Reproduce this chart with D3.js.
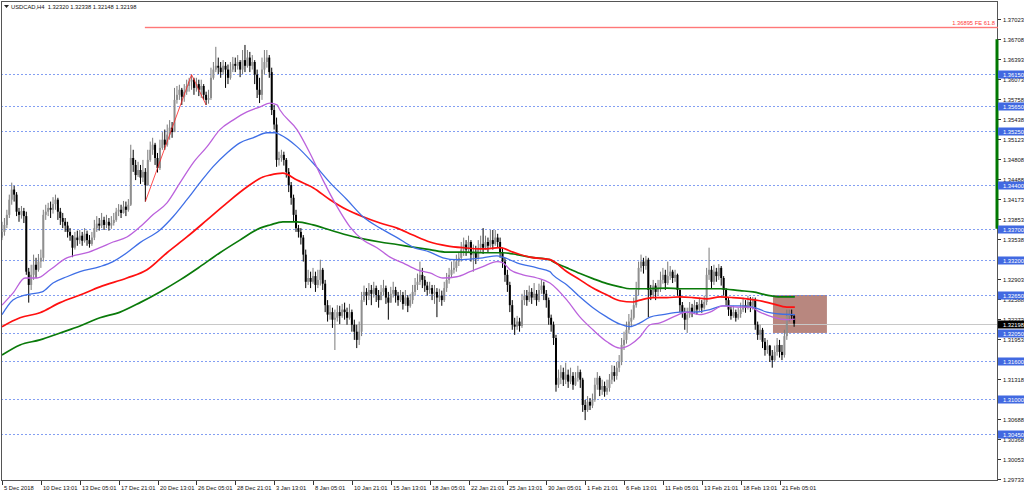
<!DOCTYPE html>
<html><head><meta charset="utf-8">
<script src="https://cdn.jsdelivr.net/npm/d3@7"></script>
<style>html,body{margin:0;padding:0;background:#fff;} svg{display:block;} text{font-family:"Liberation Sans",Arial,sans-serif;}</style>
</head><body><svg id="c" width="1024" height="494"></svg>
<script>
const symbolTitle = "USDCAD,H4  1.32320 1.32338 1.32148 1.32198";
const firstOpen = 1.3356;
const closes = [
1.3365,1.3376,1.3392,1.3416,1.3432,1.3424,1.3397,1.3392,1.3398,1.3390,
1.3302,1.3281,1.3297,1.3313,1.3305,1.3318,1.3324,1.3392,1.3397,1.3403,
1.3400,1.3409,1.3416,1.3397,1.3387,1.3381,1.3375,1.3365,1.3359,1.3340,
1.3356,1.3352,1.3359,1.3351,1.3362,1.3352,1.3346,1.3356,1.3371,1.3378,
1.3375,1.3384,1.3376,1.3381,1.3375,1.3379,1.3384,1.3397,1.3400,1.3395,
1.3405,1.3400,1.3408,1.3482,1.3471,1.3455,1.3463,1.3451,1.3460,1.3439,
1.3479,1.3495,1.3503,1.3482,1.3466,1.3498,1.3511,1.3503,1.3519,1.3530,
1.3523,1.3574,1.3582,1.3590,1.3579,1.3587,1.3596,1.3603,1.3606,1.3593,
1.3599,1.3590,1.3596,1.3582,1.3574,1.3577,1.3609,1.3622,1.3628,1.3625,
1.3618,1.3628,1.3622,1.3609,1.3622,1.3631,1.3628,1.3634,1.3622,1.3637,
1.3628,1.3641,1.3628,1.3634,1.3614,1.3590,1.3582,1.3622,1.3634,1.3641,
1.3618,1.3558,1.3535,1.3479,1.3482,1.3487,1.3479,1.3460,1.3439,1.3419,
1.3392,1.3371,1.3365,1.3356,1.3329,1.3286,1.3292,1.3286,1.3295,1.3281,
1.3289,1.3305,1.3283,1.3249,1.3234,1.3238,1.3226,1.3229,1.3238,1.3232,
1.3242,1.3238,1.3229,1.3238,1.3218,1.3207,1.3194,1.3207,1.3257,1.3270,
1.3264,1.3273,1.3267,1.3276,1.3265,1.3257,1.3270,1.3276,1.3261,1.3253,
1.3267,1.3273,1.3264,1.3257,1.3265,1.3251,1.3261,1.3248,1.3257,1.3270,
1.3281,1.3286,1.3297,1.3289,1.3280,1.3273,1.3276,1.3267,1.3270,1.3261,
1.3264,1.3257,1.3276,1.3289,1.3297,1.3305,1.3308,1.3318,1.3324,1.3337,
1.3345,1.3337,1.3349,1.3329,1.3333,1.3324,1.3340,1.3346,1.3340,1.3349,
1.3343,1.3352,1.3346,1.3356,1.3349,1.3333,1.3318,1.3297,1.3281,1.3249,
1.3218,1.3215,1.3223,1.3216,1.3257,1.3264,1.3257,1.3270,1.3261,1.3267,
1.3257,1.3273,1.3280,1.3267,1.3257,1.3229,1.3218,1.3197,1.3123,1.3134,
1.3143,1.3131,1.3139,1.3128,1.3137,1.3123,1.3134,1.3143,1.3131,1.3091,
1.3083,1.3096,1.3090,1.3099,1.3123,1.3134,1.3115,1.3121,1.3112,1.3118,
1.3131,1.3143,1.3137,1.3150,1.3159,1.3186,1.3194,1.3210,1.3223,1.3229,
1.3249,1.3273,1.3308,1.3318,1.3311,1.3321,1.3273,1.3265,1.3280,1.3270,
1.3276,1.3289,1.3297,1.3284,1.3295,1.3302,1.3292,1.3297,1.3273,1.3249,
1.3238,1.3226,1.3234,1.3245,1.3238,1.3249,1.3242,1.3251,1.3245,1.3254,
1.3297,1.3305,1.3286,1.3302,1.3295,1.3308,1.3292,1.3273,1.3257,1.3242,
1.3232,1.3238,1.3229,1.3235,1.3242,1.3249,1.3245,1.3254,1.3248,1.3257,
1.3218,1.3202,1.3210,1.3191,1.3178,1.3185,1.3169,1.3162,1.3175,1.3186,
1.3175,1.3170,1.3200,1.3232,1.3235,1.3232,1.32198];
const highs = [
1.3381,1.3387,1.3400,1.3424,1.3443,1.3438,1.3428,1.3403,1.3406,1.3403,
1.3397,1.3308,1.3313,1.3329,1.3324,1.3330,1.3337,1.3400,1.3408,1.3411,
1.3413,1.3420,1.3424,1.3419,1.3403,1.3395,1.3387,1.3381,1.3371,1.3360,
1.3365,1.3367,1.3368,1.3365,1.3371,1.3367,1.3360,1.3365,1.3384,1.3390,
1.3387,1.3395,1.3389,1.3392,1.3387,1.3390,1.3395,1.3403,1.3409,1.3408,
1.3414,1.3413,1.3417,1.3503,1.3495,1.3479,1.3476,1.3471,1.3479,1.3466,
1.3495,1.3508,1.3514,1.3506,1.3490,1.3511,1.3523,1.3527,1.3535,1.3542,
1.3539,1.3593,1.3596,1.3598,1.3593,1.3599,1.3606,1.3609,1.3614,1.3609,
1.3609,1.3606,1.3606,1.3599,1.3587,1.3590,1.3625,1.3634,1.3658,1.3641,
1.3634,1.3637,1.3634,1.3630,1.3634,1.3642,1.3641,1.3645,1.3637,1.3653,
1.3661,1.3653,1.3650,1.3645,1.3637,1.3622,1.3609,1.3641,1.3653,1.3653,
1.3645,1.3625,1.3566,1.3546,1.3492,1.3495,1.3492,1.3482,1.3466,1.3444,
1.3424,1.3400,1.3376,1.3371,1.3360,1.3337,1.3305,1.3302,1.3308,1.3302,
1.3305,1.3321,1.3308,1.3289,1.3257,1.3249,1.3245,1.3242,1.3249,1.3248,
1.3251,1.3253,1.3245,1.3251,1.3242,1.3226,1.3218,1.3223,1.3270,1.3280,
1.3276,1.3284,1.3281,1.3286,1.3280,1.3273,1.3281,1.3289,1.3280,1.3270,
1.3278,1.3286,1.3278,1.3270,1.3273,1.3270,1.3273,1.3265,1.3267,1.3281,
1.3292,1.3299,1.3318,1.3308,1.3295,1.3286,1.3286,1.3281,1.3281,1.3276,
1.3275,1.3272,1.3286,1.3300,1.3308,1.3318,1.3321,1.3329,1.3333,1.3349,
1.3356,1.3352,1.3359,1.3352,1.3345,1.3343,1.3352,1.3359,1.3371,1.3359,
1.3356,1.3368,1.3368,1.3368,1.3362,1.3356,1.3340,1.3324,1.3305,1.3286,
1.3257,1.3229,1.3232,1.3229,1.3267,1.3273,1.3273,1.3280,1.3276,1.3284,
1.3273,1.3283,1.3289,1.3286,1.3273,1.3261,1.3234,1.3223,1.3202,1.3147,
1.3154,1.3150,1.3158,1.3147,1.3150,1.3143,1.3143,1.3153,1.3147,1.3134,
1.3099,1.3105,1.3102,1.3109,1.3134,1.3143,1.3137,1.3131,1.3128,1.3131,
1.3140,1.3154,1.3153,1.3159,1.3170,1.3197,1.3207,1.3223,1.3235,1.3242,
1.3261,1.3286,1.3318,1.3329,1.3324,1.3327,1.3324,1.3281,1.3289,1.3284,
1.3289,1.3302,1.3308,1.3305,1.3318,1.3311,1.3305,1.3305,1.3299,1.3276,
1.3254,1.3245,1.3245,1.3254,1.3251,1.3257,1.3254,1.3261,1.3257,1.3264,
1.3308,1.3340,1.3311,1.3313,1.3308,1.3314,1.3311,1.3295,1.3276,1.3261,
1.3248,1.3248,1.3242,1.3245,1.3253,1.3261,1.3257,1.3264,1.3262,1.3262,
1.3261,1.3223,1.3218,1.3213,1.3197,1.3194,1.3186,1.3178,1.3185,1.3197,
1.3194,1.3186,1.3210,1.3242,1.3242,1.3242,1.32338];
const lows = [
1.3352,1.3359,1.3371,1.3387,1.3408,1.3413,1.3390,1.3381,1.3386,1.3379,
1.3297,1.3253,1.3273,1.3289,1.3292,1.3302,1.3308,1.3318,1.3384,1.3390,
1.3387,1.3394,1.3400,1.3384,1.3376,1.3371,1.3365,1.3356,1.3351,1.3325,
1.3337,1.3343,1.3346,1.3343,1.3348,1.3343,1.3340,1.3343,1.3352,1.3365,
1.3367,1.3371,1.3368,1.3371,1.3367,1.3370,1.3375,1.3381,1.3390,1.3387,
1.3394,1.3390,1.3397,1.3406,1.3460,1.3447,1.3452,1.3441,1.3444,1.3413,
1.3438,1.3476,1.3487,1.3471,1.3459,1.3463,1.3495,1.3495,1.3500,1.3511,
1.3514,1.3523,1.3568,1.3574,1.3566,1.3571,1.3582,1.3587,1.3590,1.3582,
1.3587,1.3580,1.3577,1.3574,1.3566,1.3568,1.3574,1.3606,1.3618,1.3615,
1.3609,1.3614,1.3593,1.3599,1.3606,1.3618,1.3618,1.3622,1.3610,1.3615,
1.3618,1.3625,1.3618,1.3622,1.3599,1.3577,1.3569,1.3574,1.3614,1.3625,
1.3609,1.3550,1.3527,1.3468,1.3470,1.3476,1.3470,1.3451,1.3428,1.3408,
1.3381,1.3365,1.3356,1.3345,1.3318,1.3276,1.3281,1.3276,1.3283,1.3270,
1.3276,1.3280,1.3273,1.3238,1.3223,1.3226,1.3213,1.3178,1.3223,1.3219,
1.3229,1.3226,1.3218,1.3226,1.3207,1.3194,1.3181,1.3186,1.3200,1.3254,
1.3249,1.3257,1.3249,1.3261,1.3254,1.3245,1.3257,1.3264,1.3251,1.3226,
1.3257,1.3261,1.3253,1.3248,1.3254,1.3242,1.3248,1.3238,1.3245,1.3251,
1.3264,1.3273,1.3281,1.3276,1.3270,1.3264,1.3267,1.3257,1.3251,1.3230,
1.3254,1.3248,1.3254,1.3270,1.3283,1.3292,1.3299,1.3302,1.3311,1.3318,
1.3327,1.3327,1.3333,1.3318,1.3302,1.3314,1.3321,1.3333,1.3330,1.3337,
1.3333,1.3340,1.3337,1.3343,1.3340,1.3324,1.3308,1.3286,1.3270,1.3238,
1.3210,1.3202,1.3210,1.3207,1.3213,1.3249,1.3248,1.3254,1.3251,1.3257,
1.3248,1.3254,1.3267,1.3257,1.3245,1.3218,1.3207,1.3186,1.3112,1.3118,
1.3124,1.3121,1.3124,1.3118,1.3124,1.3115,1.3121,1.3128,1.3118,1.3080,
1.3067,1.3080,1.3083,1.3086,1.3096,1.3115,1.3105,1.3107,1.3104,1.3107,
1.3112,1.3124,1.3128,1.3131,1.3143,1.3154,1.3178,1.3188,1.3204,1.3216,
1.3226,1.3245,1.3265,1.3302,1.3299,1.3305,1.3230,1.3257,1.3261,1.3257,
1.3264,1.3270,1.3283,1.3273,1.3281,1.3289,1.3284,1.3286,1.3264,1.3238,
1.3229,1.3210,1.3205,1.3229,1.3230,1.3235,1.3234,1.3238,1.3237,1.3242,
1.3249,1.3289,1.3276,1.3281,1.3286,1.3289,1.3280,1.3264,1.3248,1.3232,
1.3226,1.3229,1.3223,1.3226,1.3229,1.3238,1.3237,1.3242,1.3238,1.3242,
1.3210,1.3194,1.3194,1.3181,1.3169,1.3172,1.3159,1.3150,1.3159,1.3169,
1.3166,1.3162,1.3166,1.3194,1.3223,1.3226,1.32148];

// moving averages: [bar index, price]
const maPurple = [[0,1.3249],[4.5,1.3268],[9.5,1.3292],[14.4,1.3292],[19.8,1.3305],[26.7,1.3324],[29.2,1.3327],[35,1.3332],[40.3,1.3340],[45.7,1.3349],[51.4,1.3357],[56.8,1.3373],[62.1,1.3392],[67.9,1.3411],[73.3,1.3443],[78.6,1.3474],[84.4,1.3500],[89.7,1.3527],[95.1,1.3542],[100.8,1.3555],[106.2,1.3563],[110.3,1.3569],[113.2,1.3566],[114.4,1.3558],[121.4,1.3527],[126.7,1.3490],[132.1,1.3447],[137.9,1.3405],[143.2,1.3373],[148.6,1.3352],[154.3,1.3340],[159.7,1.3325],[165,1.3316],[170.8,1.3305],[176.1,1.3300],[181.5,1.3292],[187.2,1.3294],[192.6,1.3302],[197.9,1.3310],[203.7,1.3318],[206.2,1.3316],[209.1,1.3305],[214.4,1.3297],[220.2,1.3292],[225.5,1.3284],[232.5,1.3257],[237.9,1.3230],[243.2,1.3210],[249,1.3191],[254.3,1.3181],[258.4,1.3186],[262.6,1.3199],[266.7,1.3218],[270.8,1.3221],[276.1,1.3230],[281.9,1.3238],[287.2,1.3234],[291.4,1.3238],[296.7,1.3248],[302.5,1.3246],[307.8,1.3246],[311.9,1.3238],[317.3,1.3230],[323,1.3226],[326.3,1.3227]];
const maBlue = [[0,1.3234],[4.5,1.3257],[9.5,1.3265],[16.5,1.3270],[21,1.3284],[26.7,1.3294],[32.1,1.3302],[40.3,1.3310],[45.7,1.3318],[51.4,1.3332],[56.8,1.3348],[65,1.3368],[70.4,1.3389],[76.1,1.3416],[81.5,1.3443],[86.8,1.3468],[92.6,1.3490],[97.9,1.3506],[103.3,1.3514],[109.1,1.3522],[112.3,1.3522],[114.4,1.3519],[121.4,1.3500],[128,1.3474],[135,1.3443],[142,1.3416],[148.6,1.3389],[155.6,1.3371],[162.6,1.3356],[169.1,1.3341],[176.1,1.3333],[181.5,1.3324],[187.2,1.3321],[192.6,1.3322],[197.9,1.3324],[203.7,1.3327],[206.2,1.3325],[211.9,1.3316],[220.2,1.3308],[225.5,1.3302],[226.7,1.3297],[232.5,1.3281],[237.9,1.3262],[243.2,1.3245],[249,1.3230],[254.3,1.3219],[258.4,1.3215],[262.6,1.3221],[266.7,1.3230],[272,1.3234],[279,1.3238],[284.4,1.3238],[291.4,1.3242],[296.7,1.3248],[303.7,1.3248],[309.1,1.3246],[314.8,1.3238],[320.2,1.3235],[326.3,1.3234]];
const maRed = [[0,1.3215],[7.4,1.3229],[15.6,1.3237],[23.9,1.3253],[32.1,1.3265],[40.3,1.3278],[51.4,1.3292],[59.7,1.3305],[67.9,1.3332],[76.1,1.3357],[84.4,1.3384],[92.6,1.3411],[100.8,1.3436],[107.4,1.3452],[110.3,1.3455],[115.6,1.3458],[121.4,1.3447],[128,1.3435],[135,1.3416],[142,1.3400],[148.6,1.3389],[155.6,1.3379],[162.6,1.3371],[169.1,1.3360],[176.1,1.3349],[183.1,1.3343],[189.7,1.3340],[197.9,1.3338],[204.9,1.3340],[210.3,1.3333],[217.3,1.3325],[225.5,1.3321],[232.5,1.3302],[237.9,1.3289],[243.2,1.3276],[249,1.3265],[254.3,1.3256],[259.7,1.3254],[262.6,1.3257],[267.9,1.3261],[273.7,1.3261],[279,1.3262],[284.4,1.3261],[290.1,1.3259],[295.5,1.3262],[300.8,1.3261],[306.6,1.3259],[311.9,1.3256],[317.3,1.3251],[323,1.3246],[326.3,1.3246]];
const maGreen = [[0,1.3170],[7.4,1.3186],[15.6,1.3194],[23.9,1.3205],[32.1,1.3216],[40.3,1.3229],[48.6,1.3238],[56.8,1.3253],[65,1.3270],[73.3,1.3289],[81.5,1.3310],[89.7,1.3332],[97.9,1.3352],[106.2,1.3371],[110.3,1.3376],[115.6,1.3381],[121.4,1.3381],[128,1.3376],[135,1.3368],[142,1.3360],[148.6,1.3354],[155.6,1.3349],[162.6,1.3345],[169.1,1.3341],[176.1,1.3337],[183.1,1.3333],[189.7,1.3333],[197.9,1.3332],[206.2,1.3332],[211.9,1.3329],[217.3,1.3325],[225.5,1.3321],[226.7,1.3318],[232.5,1.3308],[237.9,1.3299],[243.2,1.3291],[249,1.3283],[254.3,1.3278],[258.4,1.3275],[265.4,1.3275],[273.7,1.3276],[279,1.3275],[287.2,1.3275],[295.5,1.3275],[303.7,1.3272],[309.1,1.3270],[314.8,1.3265],[320.2,1.3262],[326.3,1.3262]];
const zigzag = [[59,1.3413],[78,1.3614],[84,1.3566]];

const levels = [1.3615,1.3565,1.3525,1.3440,1.3370,1.3320,1.3265,1.3205,1.3160,1.3100,1.3045];
const priceTicks = [1.37023,1.36708,1.36393,1.36073,1.35758,1.35438,1.35123,1.34808,1.34488,1.34173,1.33853,1.33538,1.33223,1.32903,1.32588,1.32273,1.31953,1.31638,1.31318,1.31003,1.30688,1.30368,1.30053,1.29733];
const timeTickBars = [0,16,32,48,64,80,96,112,128,144,160,176,192,208,224,240,256,272,288,304,320];
const timeTickLabels = ["5 Dec 2018","10 Dec 13:01","13 Dec 05:01","17 Dec 21:01","20 Dec 13:01","26 Dec 05:01","28 Dec 21:01","3 Jan 13:01","8 Jan 05:01","10 Jan 21:01","15 Jan 13:01","18 Jan 05:01","22 Jan 21:01","25 Jan 13:01","30 Jan 05:01","1 Feb 21:01","6 Feb 13:01","11 Feb 05:01","13 Feb 21:01","18 Feb 13:01","21 Feb 05:01"];
const feLevel = 1.36895, feStartBar = 58.8, feLabel = "1.36895 FE 61.8";
const boxBars = [317.3, 339.5], boxPrices = [1.3265, 1.3205];
const greenRange = [1.3670, 1.3370];
const bid = 1.32198;

const W = 1024, H = 494;
const L = 1, T = 1, R = 998, B = 481;
const svg = d3.select("#c");
const x = d3.scaleLinear().domain([0, 409.5]).range([2, 997]);
const y = d3.scaleLinear().domain([1.3045, 1.3615]).range([434, 74]);
const fmt = d3.format(".5f");
const FS = 5.8;

svg.append("rect").attr("width", W).attr("height", H).attr("fill", "#fff");
const clip = svg.append("defs").append("clipPath").attr("id", "pc");
clip.append("rect").attr("x", L).attr("y", T).attr("width", R - L).attr("height", B - T);
const plot = svg.append("g").attr("clip-path", "url(#pc)");

// box
plot.append("rect").attr("x", x(boxBars[0])).attr("width", x(boxBars[1]) - x(boxBars[0]))
  .attr("y", y(boxPrices[0])).attr("height", y(boxPrices[1]) - y(boxPrices[0])).attr("fill", "#b8877f");

// level lines
plot.selectAll(".lvl").data(levels).join("line").attr("class", "lvl")
  .attr("x1", L).attr("x2", R).attr("y1", d => Math.round(y(d)) + 0.5).attr("y2", d => Math.round(y(d)) + 0.5)
  .attr("stroke", "#5a80ee").attr("stroke-width", 1).attr("stroke-dasharray", "2,2").attr("opacity", 0.75);

// bid line
plot.append("line").attr("x1", L).attr("x2", R).attr("y1", Math.round(y(bid)) + 0.5).attr("y2", Math.round(y(bid)) + 0.5)
  .attr("stroke", "#c8c8c8").attr("stroke-width", 1);

// candles
const bars = closes.map((c, i) => {
  const o = i === 0 ? firstOpen : closes[i - 1];
  return { i, o, c, h: Math.max(highs[i], o, c), l: Math.min(lows[i], o, c) };
});
const cg = plot.append("g");
cg.selectAll("line").data(bars).join("line")
  .attr("x1", d => x(d.i)).attr("x2", d => x(d.i))
  .attr("y1", d => y(d.h)).attr("y2", d => y(d.l))
  .attr("stroke", d => d.c >= d.o ? "#7a7a7a" : "#000").attr("stroke-width", 1);
cg.selectAll("rect").data(bars).join("rect")
  .attr("x", d => x(d.i) - 1).attr("width", 2)
  .attr("y", d => Math.min(y(d.o), y(d.c))).attr("height", d => Math.max(0.8, Math.abs(y(d.o) - y(d.c))))
  .attr("fill", d => d.c >= d.o ? "#8f8f8f" : "#000");

// zigzag
plot.append("path").datum(zigzag).attr("fill", "none").attr("stroke", "#ff2020").attr("stroke-width", 0.8)
  .attr("d", d3.line().x(d => x(d[0])).y(d => y(d[1])));

// MAs
const maLine = d3.line().x(d => x(d[0])).y(d => y(d[1])).curve(d3.curveMonotoneX);
[[maGreen, "#0a7a0a", 1.7], [maRed, "#ff1010", 1.7], [maBlue, "#3f6fe6", 1.3], [maPurple, "#bb62dc", 1.3]].forEach(([data, col, w]) => {
  plot.append("path").datum(data).attr("fill", "none").attr("stroke", col).attr("stroke-width", w).attr("d", maLine);
});

// frame
svg.append("rect").attr("x", L + 0.5).attr("y", T + 0.5).attr("width", R - L - 1).attr("height", B - T - 1)
  .attr("fill", "none").attr("stroke", "#555").attr("stroke-width", 1);

// FE line and label
svg.append("rect").attr("x", x(feStartBar)).attr("width", R - x(feStartBar))
  .attr("y", Math.round(y(feLevel)) - 0.2).attr("height", 1.4).attr("fill", "#ff7878");
svg.append("text").attr("x", 995).attr("y", y(feLevel) - 2).attr("text-anchor", "end")
  .attr("font-size", FS).attr("fill", "#ff3a3a").text(feLabel);

// green axis bar
svg.append("line").attr("x1", R - 1).attr("x2", R - 1).attr("y1", y(greenRange[0])).attr("y2", y(greenRange[1]))
  .attr("stroke", "#007700").attr("stroke-width", 3);

// price axis
const pa = svg.append("g");
priceTicks.forEach(p => {
  const yy = Math.round(y(p)) + 0.5;
  pa.append("line").attr("x1", R).attr("x2", R + 3).attr("y1", yy).attr("y2", yy).attr("stroke", "#333");
  pa.append("text").attr("x", R + 5).attr("y", yy).attr("dy", "0.35em").attr("font-size", FS).attr("fill", "#111").text(fmt(p));
});
// level tags
levels.forEach(p => {
  const yy = Math.round(y(p)) + 0.5;
  pa.append("rect").attr("x", R).attr("y", yy - 4).attr("width", W - R).attr("height", 8).attr("fill", "#4169e1");
  pa.append("text").attr("x", R + 5).attr("y", yy).attr("dy", "0.35em").attr("font-size", FS).attr("fill", "#fff").text(fmt(p));
});
// bid tag
{
  const yy = Math.round(y(bid)) + 0.5;
  pa.append("rect").attr("x", R).attr("y", yy - 4).attr("width", W - R).attr("height", 8).attr("fill", "#000");
  pa.append("text").attr("x", R + 5).attr("y", yy).attr("dy", "0.35em").attr("font-size", FS).attr("fill", "#fff").text(fmt(bid));
}

// time axis
const ta = svg.append("g");
timeTickBars.forEach((b, k) => {
  const xx = Math.round(x(b)) + 0.5;
  ta.append("line").attr("x1", xx).attr("x2", xx).attr("y1", B).attr("y2", B + 4).attr("stroke", "#333");
  ta.append("text").attr("x", xx + 1.5).attr("y", B + 9).attr("font-size", FS).attr("fill", "#111").text(timeTickLabels[k]);
});

// title
svg.append("path").attr("d", "M4,5 L9,5 L6.5,8 Z").attr("fill", "#222");
svg.append("text").attr("x", 11).attr("y", 9).attr("font-size", FS).attr("fill", "#111").attr("xml:space", "preserve").text(symbolTitle);
</script></body></html>
